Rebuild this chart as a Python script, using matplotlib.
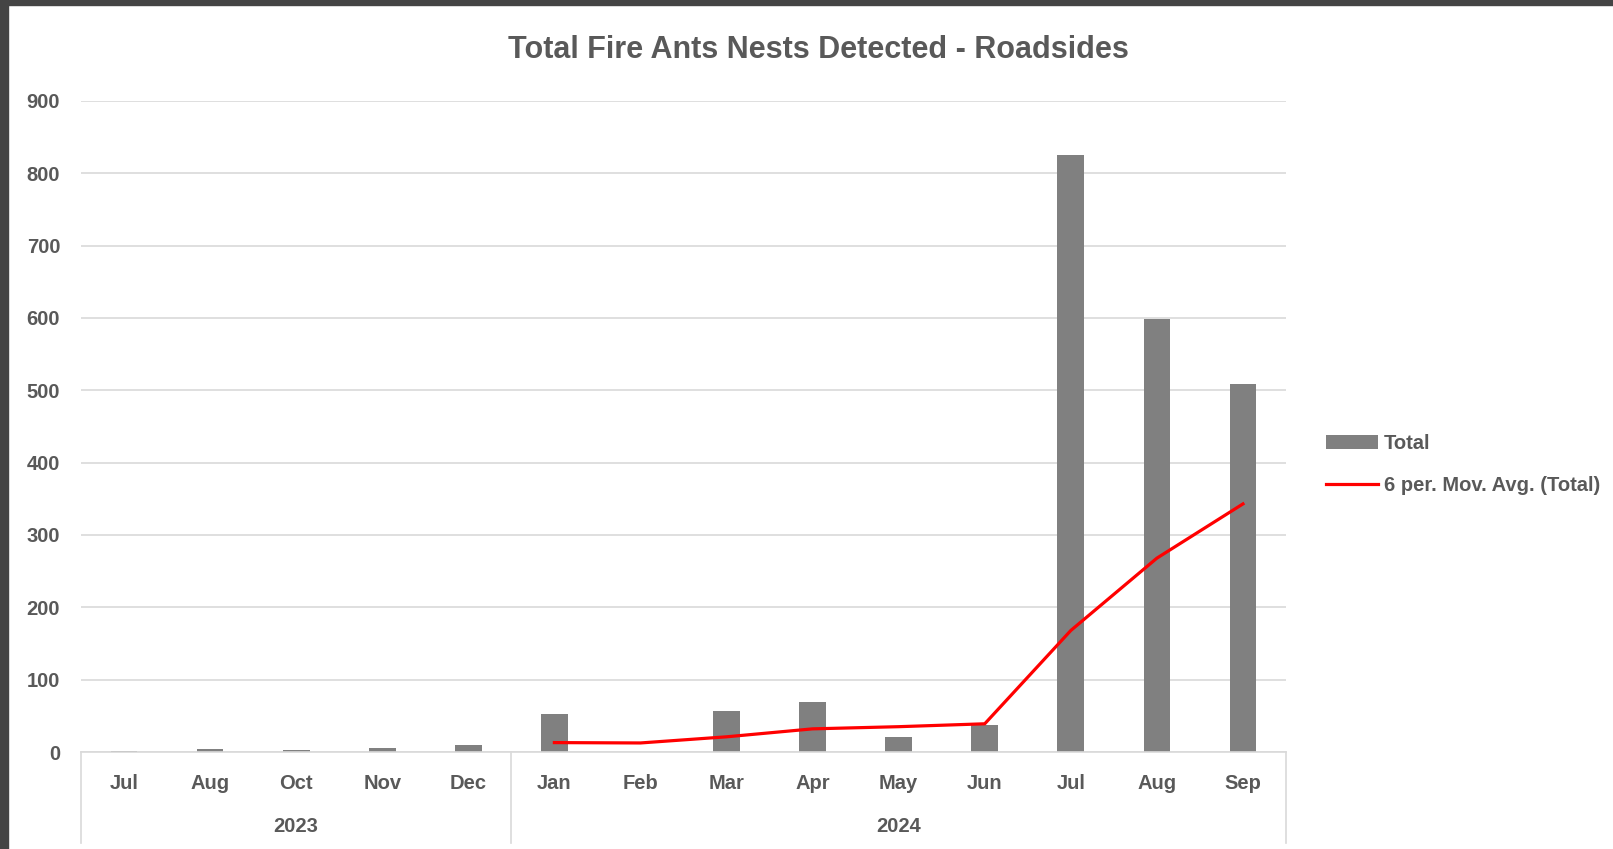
import matplotlib
matplotlib.use("Agg")
import matplotlib.pyplot as plt
import matplotlib.transforms as mtransforms
from matplotlib import font_manager

#Data
months = ['Jul', 'Aug', 'Oct', 'Nov', 'Dec', 'Jan', 'Feb', 'Mar', 'Apr', 'May', 'Jun', 'Jul', 'Aug', 'Sep']
years = ['2023', '2024']
yearCounts = [5, 9]  # months under each year
totals = [2, 4, 3, 6, 10, 52, 0, 56, 69, 21, 37, 825, 598, 509]
movAvg = [13, 12.5, 21, 32, 35, 39, 168, 268, 343]  # 6 per. moving average, from Jan 2024
movAvgStart = 5

names = {f.name for f in font_manager.fontManager.ttflist}
fam = 'Liberation Sans Narrow' if 'Liberation Sans Narrow' in names else 'Liberation Sans'
plt.rcParams['font.family'] = [fam, 'DejaVu Sans']
txt = '#595959'
grid = '#d9d9d9'

fig = plt.figure(figsize=(16.13, 8.49), dpi=100)
fig.patch.set_facecolor('white')
ax = fig.add_axes([81/1613, 1 - 752/849, (1286-81)/1613, (752-101)/849])

x = list(range(len(totals)))
bars = ax.bar(x, totals, width=0.31, color='#808080', label='Total', zorder=2)
line, = ax.plot(x[movAvgStart:], movAvg, color='#ff0000', lw=2.3, label='6 per. Mov. Avg. (Total)', zorder=3)

ax.set_xlim(-0.5, len(totals) - 0.5)
ax.set_ylim(0, 900)
ax.set_yticks(range(0, 901, 100))
ax.yaxis.grid(True, color=grid, lw=1.2)
ax.set_axisbelow(True)
for s in ['top', 'right', 'left']:
    ax.spines[s].set_visible(False)
ax.spines['bottom'].set_color(grid)
ax.spines['bottom'].set_linewidth(1.2)
ax.tick_params(axis='y', length=0, pad=15, labelsize=14.5, labelcolor=txt)
ax.tick_params(axis='x', length=0, pad=16, labelsize=14.5, labelcolor=txt)
ax.set_xticks(x)
ax.set_xticklabels(months)
for lab in ax.get_xticklabels() + ax.get_yticklabels():
    lab.set_fontweight('bold')

#Multi-level category axis
trans = mtransforms.blended_transform_factory(ax.transData, ax.transAxes)
bounds = [-0.5]
for c in yearCounts:
    bounds.append(bounds[-1] + c)
for b in bounds:
    ax.plot([b, b], [0, -0.14], transform=trans, color=grid, lw=1.2, clip_on=False)
for i, yr in enumerate(years):
    ax.text((bounds[i] + bounds[i + 1]) / 2, -0.115, yr, transform=trans, ha='center', va='center',
            fontsize=14.5, fontweight='bold', color=txt)

fig.text(818/1613, 1 - 50/849, 'Total Fire Ants Nests Detected - Roadsides', ha='center', va='center',
         fontsize=22, fontweight='bold', color=txt)

leg = ax.legend([bars, line], ['Total', '6 per. Mov. Avg. (Total)'], loc='center left',
                bbox_to_anchor=(1.033, 0.442), frameon=False, fontsize=14.5,
                handlelength=2.6, handletextpad=0.3, labelspacing=1.15, labelcolor=txt,
                borderpad=0, borderaxespad=0)
for t in leg.get_texts():
    t.set_fontweight('bold')

#Screenshot frame
fig.add_artist(plt.Rectangle((0, 1 - 5/849), 1, 5/849, transform=fig.transFigure, color='#444444'))
fig.add_artist(plt.Rectangle((0, 0), 8/1613, 1, transform=fig.transFigure, color='#444444'))

fig.savefig('out.png', dpi=100)
